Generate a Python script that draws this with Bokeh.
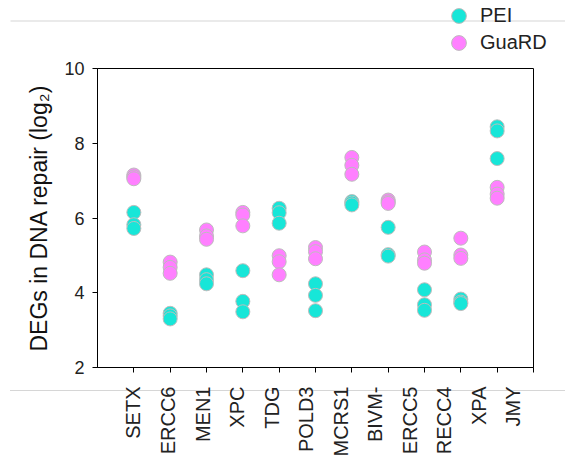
from bokeh.plotting import figure
from bokeh.layouts import column
from bokeh.models import (ColumnDataSource, FixedTicker, LinearAxis, Range1d,
                          Legend, LegendItem, BoxAnnotation)
from bokeh.embed import file_html
from bokeh.resources import INLINE

# DNA-repair genes and their log2 DEG values (three replicates per condition)
genes = ["SETX", "ERCC6", "MEN1", "XPC", "TDG", "POLD3", "MCRS1",
         "BIVM-", "ERCC5", "RECC4", "XPA", "JMY"]
pei = [
    [6.15, 5.82, 5.72],
    [3.45, 3.38, 3.30],
    [4.48, 4.35, 4.24],
    [4.59, 3.77, 3.49],
    [6.26, 6.14, 5.86],
    [4.24, 3.93, 3.52],
    [6.44, 6.40, 6.35],
    [5.75, 5.02, 4.98],
    [4.08, 3.68, 3.53],
    [3.83, 3.75, 3.71],
    [8.44, 8.33, 7.59],
    [],
]
guard = [
    [7.15, 7.10, 7.05],
    [4.82, 4.68, 4.52],
    [5.68, 5.52, 5.43],
    [6.15, 6.08, 5.79],
    [4.99, 4.83, 4.48],
    [5.21, 5.10, 4.91],
    [7.62, 7.41, 7.17],
    [6.48, 6.43, 6.39],
    [5.09, 4.88, 4.79],
    [5.46, 5.01, 4.92],
    [6.82, 6.64, 6.53],
    [],
]
y_ticks = [2, 4, 6, 8, 10]
series_names = ["PEI", "GuaRD"]

FONT = "Liberation Sans"
CYAN = "#17E6D8"
PINK = "#FF80FF"
RULE = "#d6d6d6"
MARK_STYLE = dict(size=14, line_color="#bdbdbd", line_width=1)

KEY_W, KEY_H = 565, 56


def flatten(groups):
    xs, ys = [], []
    for i, vals in enumerate(groups):
        for v in vals:
            xs.append(i)
            ys.append(v)
    return ColumnDataSource(dict(x=xs, y=ys))


def free_frame(fig):
    # keep each figure's frame independent inside the column
    if "frame_align" in fig.properties():
        fig.frame_align = False


# ---- key strip above the chart (pixel-like coordinates, y counted downward) ----
key = figure(width=KEY_W, height=KEY_H, output_backend="svg", toolbar_location=None,
             x_axis_type=None, y_axis_type=None,
             x_range=Range1d(0, KEY_W), y_range=Range1d(KEY_H, 0),
             min_border=0, min_border_left=0, min_border_right=0,
             min_border_top=0, min_border_bottom=0)
free_frame(key)
key.grid.visible = False
key.outline_line_color = None
key.background_fill_color = "white"
key.border_fill_color = None

# faint rule across the top of the page
key.add_layout(BoxAnnotation(left=10, right=KEY_W, top=20, bottom=21,
                             fill_color=RULE, fill_alpha=1, line_color=None))

# placeholder renderers (a single empty point each) that carry the key glyphs
nan = float("nan")
key_pei = key.scatter(x=[nan], y=[nan], fill_color=CYAN, **MARK_STYLE)
key_guard = key.scatter(x=[nan], y=[nan], fill_color=PINK, **MARK_STYLE)
for name, rend, bottom in [(series_names[0], key_pei, 22),
                           (series_names[1], key_guard, -5)]:
    key.add_layout(Legend(items=[LegendItem(label=name, renderers=[rend])],
                          location=(440, bottom), orientation="vertical",
                          glyph_width=37, glyph_height=37, spacing=0,
                          label_standoff=3, padding=0, margin=0,
                          border_line_color=None, background_fill_alpha=0,
                          label_text_font=FONT, label_text_font_size="20px",
                          label_text_color="#222222"))

# ---- main chart ----
p = figure(width=565, height=412, output_backend="svg", toolbar_location=None,
           x_range=Range1d(-1, len(genes) - 1), y_range=Range1d(2, 10),
           min_border_left=97, min_border_right=32, min_border_top=12,
           min_border_bottom=101)
free_frame(p)
p.grid.visible = False
p.outline_line_color = "black"
p.outline_line_width = 1
p.background_fill_color = "white"
p.border_fill_color = None

p.scatter("x", "y", source=flatten(pei), fill_color=CYAN, **MARK_STYLE)
p.scatter("x", "y", source=flatten(guard), fill_color=PINK, **MARK_STYLE)

# y axis
p.yaxis.ticker = FixedTicker(ticks=y_ticks)
p.yaxis.minor_tick_line_color = None
p.yaxis.major_tick_in = 0
p.yaxis.major_tick_out = 5
p.yaxis.major_label_standoff = 8
p.yaxis.major_label_text_font = FONT
p.yaxis.major_label_text_font_size = "18px"
p.yaxis.major_label_text_color = "#222222"
p.yaxis.axis_label = "DEGs in DNA repair (log\u2082)"
p.yaxis.axis_label_text_font = FONT
p.yaxis.axis_label_text_font_size = "23px"
p.yaxis.axis_label_text_font_style = "normal"
p.yaxis.axis_label_text_color = "#111111"
p.yaxis.axis_label_standoff = 9
p.yaxis.axis_line_color = "black"

# x axis: tick marks at each gene (names are drawn by the axis below)
p.xaxis.ticker = FixedTicker(ticks=list(range(len(genes))))
p.xaxis.minor_tick_line_color = None
p.xaxis.major_tick_in = 0
p.xaxis.major_tick_out = 5
p.xaxis.major_label_text_color = None
p.xaxis.major_label_text_font_size = "1px"
p.xaxis.major_label_standoff = 0
p.xaxis.axis_line_color = "black"

# gene names on their own slightly tighter scale
p.extra_x_ranges = {"names": Range1d(-1.042, 11.58)}
name_axis = LinearAxis(x_range_name="names",
                       ticker=FixedTicker(ticks=list(range(len(genes)))),
                       major_label_overrides={i: g for i, g in enumerate(genes)})
name_axis.axis_line_color = None
name_axis.major_tick_line_color = None
name_axis.minor_tick_line_color = None
name_axis.major_tick_out = 0
name_axis.major_tick_in = 0
name_axis.major_label_orientation = 3.14159265 / 2
name_axis.major_label_standoff = 14
name_axis.major_label_text_font = FONT
name_axis.major_label_text_font_size = "20px"
name_axis.major_label_text_color = "#222222"
p.add_layout(name_axis, "below")

layout = column(key, p, spacing=0)
# faint rule running through the gene names
layout.styles = {"background": (f"linear-gradient({RULE}, {RULE}) 10px 390px / "
                                "555px 1px no-repeat, white")}
open("out.html", "w").write(file_html(layout, INLINE))
